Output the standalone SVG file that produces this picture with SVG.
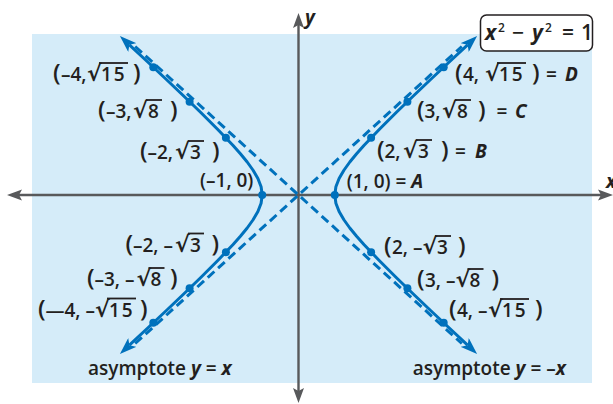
<svg xmlns="http://www.w3.org/2000/svg" width="613" height="404" viewBox="0 0 613 404">
<style>
.t{font-family:"Open Sans","Liberation Sans",sans-serif;font-size:19px;font-weight:600;fill:#231f20}
.p{font-size:24px}
.r{font-family:"DejaVu Sans",sans-serif;font-size:22px;font-weight:700}
.i{font-style:italic;font-weight:700}
.ls{letter-spacing:2px}
.ob{stroke:#231f20;stroke-width:1.8}
.ax{stroke:#58595b;stroke-width:2.4;fill:none}
.axh{fill:#58595b}
.hyp{stroke:#0071bc;stroke-width:3;fill:none;stroke-linejoin:round;marker-start:url(#ah);marker-end:url(#ah)}
.asy{stroke:#0071bc;stroke-width:3;fill:none;stroke-dasharray:9 5}
.dot{fill:#0071bc}
</style>
<defs>
<marker id="ah" markerUnits="userSpaceOnUse" viewBox="0 0 17 12" markerWidth="17" markerHeight="12" refX="4" refY="6" orient="auto-start-reverse">
<path d="M0,0 L17,6 L0,12 L4,6 Z" fill="#0071bc"/>
</marker>
</defs>
<rect x="32" y="34" width="560" height="349" fill="#d5ecf9"/>
<g id="axes">
<line class="ax" x1="15" y1="195" x2="605" y2="195"/>
<line class="ax" x1="298.5" y1="20" x2="298.5" y2="396"/>
<path class="axh" d="M7,195 L22,189.5 L19,195 L22,200.5 Z"/>
<path class="axh" d="M613,195 L598,189.5 L601,195 L598,200.5 Z"/>
<path class="axh" d="M298.5,13 L293,28 L298.5,25 L304,28 Z"/>
<path class="axh" d="M298.5,403 L293,388 L298.5,391 L304,388 Z"/>
<text class="t i" x="305" y="24">y</text>
<text class="t i" x="606" y="188">x</text>
</g>
<g id="connectors">
<line class="asy" x1="135.2" y1="343.5" x2="461.8" y2="46.5"/>
<line class="asy" x1="135.2" y1="46.5" x2="461.8" y2="343.5"/>
<path class="hyp" d="M467.6,345.15 L448.2,327 L430.6,310.5 L413.3,294 L396.2,277.5 L379.7,261 L363.9,244.5 L356.6,236.25 L349.8,228 L343.9,219.75 L339.1,211.5 L335.9,203.25 L334.8,195 L335.9,186.75 L339.1,178.5 L343.9,170.25 L349.8,162 L356.6,153.75 L363.9,145.5 L379.7,129 L396.2,112.5 L413.3,96 L430.6,79.5 L448.2,63 L467.6,44.85"/>
<path class="hyp" d="M129.4,345.15 L148.8,327 L166.4,310.5 L183.7,294 L200.8,277.5 L217.3,261 L233.1,244.5 L240.4,236.25 L247.2,228 L253.1,219.75 L257.9,211.5 L261.1,203.25 L262.2,195 L261.1,186.75 L257.9,178.5 L253.1,170.25 L247.2,162 L240.4,153.75 L233.1,145.5 L217.3,129 L200.8,112.5 L183.7,96 L166.4,79.5 L148.8,63 L129.4,44.85"/>
</g>
<g id="points">
<circle class="dot" cx="334.8" cy="195" r="4"/>
<circle class="dot" cx="371.1" cy="137.8" r="4"/>
<circle class="dot" cx="407.4" cy="101.7" r="4"/>
<circle class="dot" cx="443.7" cy="67.2" r="4"/>
<circle class="dot" cx="371.1" cy="252.2" r="4"/>
<circle class="dot" cx="407.4" cy="288.3" r="4"/>
<circle class="dot" cx="443.7" cy="322.8" r="4"/>
<circle class="dot" cx="262.2" cy="195" r="4"/>
<circle class="dot" cx="225.9" cy="137.8" r="4"/>
<circle class="dot" cx="189.6" cy="101.7" r="4"/>
<circle class="dot" cx="153.3" cy="67.2" r="4"/>
<circle class="dot" cx="225.9" cy="252.2" r="4"/>
<circle class="dot" cx="189.6" cy="288.3" r="4"/>
<circle class="dot" cx="153.3" cy="322.8" r="4"/>
</g>
<g id="label-m4-r15">
<text class="t" y="81"><tspan class="p" x="53">(</tspan><tspan x="61">–4,</tspan><tspan class="r" x="87">√</tspan><tspan class="ls" x="101">15</tspan><tspan class="p" x="133">)</tspan></text>
<line class="ob" x1="99" y1="63" x2="128" y2="63"/>
</g>
<g id="label-m3-r8">
<text class="t" y="118"><tspan class="p" x="98">(</tspan><tspan x="106">–3,</tspan><tspan class="r" x="133">√</tspan><tspan x="148">8</tspan><tspan class="p" x="170">)</tspan></text>
<line class="ob" x1="146" y1="100" x2="162" y2="100"/>
</g>
<g id="label-m2-r3">
<text class="t" y="159"><tspan class="p" x="140">(</tspan><tspan x="147.5">–2,</tspan><tspan class="r" x="175">√</tspan><tspan x="190">3</tspan><tspan class="p" x="212">)</tspan></text>
<line class="ob" x1="188" y1="141" x2="204" y2="141"/>
</g>
<g id="label-m1-0">
<text class="t" x="200" y="187">(–1, 0)</text>
</g>
<g id="label-D">
<text class="t" y="81"><tspan class="p" x="455">(</tspan><tspan x="463">4,</tspan><tspan class="r" x="485">√</tspan><tspan class="ls" x="499">15</tspan><tspan class="p" x="532">)</tspan><tspan x="546">=</tspan><tspan class="i" x="565">D</tspan></text>
<line class="ob" x1="497" y1="63" x2="526" y2="63"/>
</g>
<g id="label-C">
<text class="t" y="118"><tspan class="p" x="417">(</tspan><tspan x="424.5">3,</tspan><tspan class="r" x="442">√</tspan><tspan x="457">8</tspan><tspan class="p" x="478">)</tspan><tspan x="496.5">=</tspan><tspan class="i" x="515">C</tspan></text>
<line class="ob" x1="455" y1="100" x2="471" y2="100"/>
</g>
<g id="label-B">
<text class="t" y="158"><tspan class="p" x="377">(</tspan><tspan x="384.5">2,</tspan><tspan class="r" x="403">√</tspan><tspan x="418">3</tspan><tspan class="p" x="441">)</tspan><tspan x="455">=</tspan><tspan class="i" x="475">B</tspan></text>
<line class="ob" x1="416" y1="140" x2="432" y2="140"/>
</g>
<g id="label-A">
<text class="t" x="346.7" y="188">(1, 0) = <tspan class="i">A</tspan></text>
</g>
<g id="label-m2-mr3">
<text class="t" y="251.5"><tspan class="p" x="125.5">(</tspan><tspan x="133">–2, –</tspan><tspan class="r" x="175">√</tspan><tspan x="190">3</tspan><tspan class="p" x="211.5">)</tspan></text>
<line class="ob" x1="188" y1="233.5" x2="204" y2="233.5"/>
</g>
<g id="label-m3-mr8">
<text class="t" y="286"><tspan class="p" x="87">(</tspan><tspan x="94.5">–3, –</tspan><tspan class="r" x="136.5">√</tspan><tspan x="150.5">8</tspan><tspan class="p" x="170">)</tspan></text>
<line class="ob" x1="148.5" y1="268" x2="164.5" y2="268"/>
</g>
<g id="label-m4-mr15">
<text class="t" y="316.5"><tspan class="p" x="38">(</tspan><tspan x="45.5">—4, –</tspan><tspan class="r" x="95">√</tspan><tspan class="ls" x="109">15</tspan><tspan class="p" x="140">)</tspan></text>
<line class="ob" x1="107" y1="298.5" x2="136" y2="298.5"/>
</g>
<g id="label-2-mr3">
<text class="t" y="254"><tspan class="p" x="384">(</tspan><tspan x="392">2, –</tspan><tspan class="r" x="422.5">√</tspan><tspan x="437">3</tspan><tspan class="p" x="458">)</tspan></text>
<line class="ob" x1="435" y1="236" x2="451" y2="236"/>
</g>
<g id="label-3-mr8">
<text class="t" y="287"><tspan class="p" x="417">(</tspan><tspan x="425">3, –</tspan><tspan class="r" x="455.5">√</tspan><tspan x="469.5">8</tspan><tspan class="p" x="491.5">)</tspan></text>
<line class="ob" x1="467.5" y1="269" x2="483.5" y2="269"/>
</g>
<g id="label-4-mr15">
<text class="t" y="317"><tspan class="p" x="449">(</tspan><tspan x="457">4, –</tspan><tspan class="r" x="488">√</tspan><tspan class="ls" x="502">15</tspan><tspan class="p" x="535">)</tspan></text>
<line class="ob" x1="500" y1="299" x2="529" y2="299"/>
</g>
<g id="label-asym1">
<text class="t" x="88" y="375">asymptote <tspan class="i">y</tspan> = <tspan class="i">x</tspan></text>
</g>
<g id="label-asym2">
<text class="t" x="412.7" y="375">asymptote <tspan class="i">y</tspan> = –<tspan class="i">x</tspan></text>
</g>
<g id="equation">
<rect x="480.5" y="15" width="112" height="36" rx="6" fill="#fff" stroke="#231f20" stroke-width="1.5"/>
<text class="t" y="40" style="font-size:21px"><tspan class="i" x="485">x</tspan><tspan x="498" dy="-8" style="font-size:12px">2</tspan><tspan x="512" dy="8">−</tspan><tspan class="i" x="532">y</tspan><tspan x="545" dy="-8" style="font-size:12px">2</tspan><tspan x="562" dy="8">=</tspan><tspan x="581">1</tspan></text>
</g>
</svg>
